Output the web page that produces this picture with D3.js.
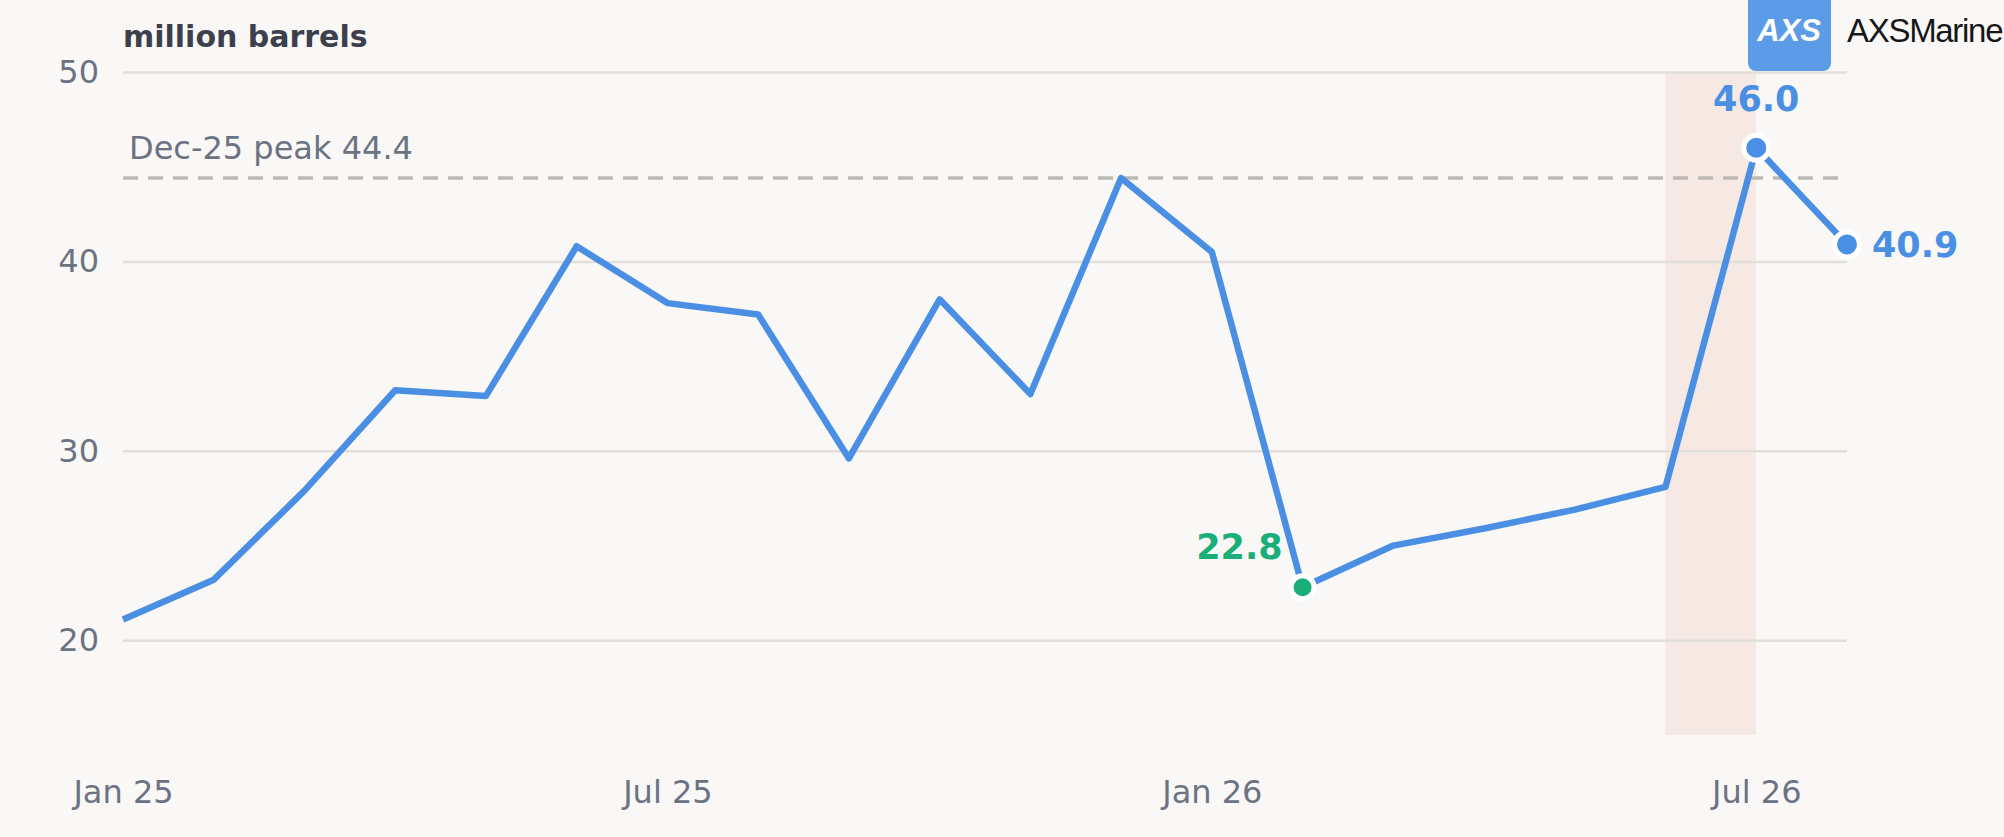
<!DOCTYPE html>
<html>
<head>
<meta charset="utf-8">
<script src="https://cdn.jsdelivr.net/npm/d3@7"></script>
<style>
  html, body { margin: 0; padding: 0; background: #f9f8f6; }
  svg { display: block; }
  .grid line { stroke: #e2dfdb; stroke-width: 2.5; }
  .grid text, .xaxis text { fill: #6b7383; font-family: "DejaVu Sans", sans-serif; font-size: 32px; }
</style>
</head>
<body>
<div id="chart"></div>
<script>
// monthly volumes, million barrels
const months = ['Jan 25','Feb 25','Mar 25','Apr 25','May 25','Jun 25','Jul 25','Aug 25','Sep 25','Oct 25','Nov 25','Dec 25',
                'Jan 26','Feb 26','Mar 26','Apr 26','May 26','Jun 26','Jul 26','Aug 26'];
const volumes = [21.1, 23.2, 27.9, 33.2, 32.9, 40.8, 37.8, 37.2, 29.6, 38.0, 33.0, 44.4,
                 40.5, 22.8, 25.0, 25.9, 26.9, 28.1, 46.0, 40.9];
const xTicks = ['Jan 25','Jul 25','Jan 26','Jul 26'];
const yTicks = [20, 30, 40, 50];
const peakValue = 44.4;
const peakLabel = 'Dec-25 peak 44.4';
const bandMonths = ['Jun 26','Jul 26'];
const lowMonth = 'Feb 26';
const highMonth = 'Jul 26';
const lastMonth = 'Aug 26';

const W = 2004, H = 837;
const margin = { left: 123, right: 157, top: 72, bottom: 102 };
const width = W - margin.left - margin.right;
const height = H - margin.top - margin.bottom;

const blue = '#4a8fe3';
const green = '#1aae78';

const data = months.map(function(m, i){ return { month: m, value: volumes[i] }; });

const x = d3.scalePoint()
    .domain(months)
    .range([0, width]);

const y = d3.scaleLinear()
    .domain([15, 50])
    .range([height, 0]);

const svg = d3.select('#chart').append('svg')
    .attr('width', W)
    .attr('height', H);

svg.append('rect').attr('width', W).attr('height', H).attr('fill', '#f9f8f6');

const g = svg.append('g')
    .attr('transform', 'translate(' + margin.left + ',' + margin.top + ')');

// shaded band
g.append('rect')
    .attr('x', x(bandMonths[0]))
    .attr('y', 0)
    .attr('width', x(bandMonths[1]) - x(bandMonths[0]))
    .attr('height', height)
    .attr('fill', '#f6e8e2');

// gridlines + y labels
const yAxis = d3.axisLeft(y)
    .tickValues(yTicks)
    .tickSize(-width)
    .tickPadding(24);

g.append('g')
    .attr('class', 'grid')
    .call(yAxis)
    .call(function(s){ s.select('.domain').remove(); });

// x labels
const xAxis = d3.axisBottom(x)
    .tickValues(xTicks)
    .tickSize(0)
    .tickPadding(45);

g.append('g')
    .attr('class', 'xaxis')
    .attr('transform', 'translate(0,' + height + ')')
    .call(xAxis)
    .call(function(s){ s.select('.domain').remove(); });

// previous peak reference
g.append('line')
    .attr('x1', 0)
    .attr('x2', width)
    .attr('y1', y(peakValue))
    .attr('y2', y(peakValue))
    .attr('stroke', '#bdbab5')
    .attr('stroke-width', 3.5)
    .attr('stroke-dasharray', '15,10');

g.append('text')
    .attr('x', 6)
    .attr('y', y(peakValue) - 19)
    .attr('fill', '#6b7383')
    .style('font-family', '"DejaVu Sans", sans-serif')
    .style('font-size', '32px')
    .text(peakLabel);

// main line
const line = d3.line()
    .x(function(d){ return x(d.month); })
    .y(function(d){ return y(d.value); });

g.append('path')
    .datum(data)
    .attr('fill', 'none')
    .attr('stroke', blue)
    .attr('stroke-width', 6.5)
    .attr('stroke-linejoin', 'round')
    .attr('d', line);

// highlighted points
const marks = [
    { month: lowMonth, color: green },
    { month: highMonth, color: blue },
    { month: lastMonth, color: blue }
].map(function(m){
    return { month: m.month, color: m.color, value: volumes[months.indexOf(m.month)] };
});

g.selectAll('.dot')
    .data(marks)
    .enter()
    .append('circle')
    .attr('class', 'dot')
    .attr('r', function(d){ return d.month === lowMonth ? 11.5 : 12.5; })
    .attr('cx', function(d){ return x(d.month); })
    .attr('cy', function(d){ return y(d.value); })
    .attr('fill', function(d){ return d.color; })
    .attr('stroke', '#fff')
    .attr('stroke-width', 5);

const labelStyle = function(s){
    s.style('font-family', '"DejaVu Sans", sans-serif')
     .style('font-size', '35px')
     .style('font-weight', 'bold');
};

g.append('text')
    .attr('x', x(lowMonth) - 20)
    .attr('y', y(marks[0].value) - 28)
    .attr('text-anchor', 'end')
    .attr('fill', green)
    .call(labelStyle)
    .text(marks[0].value.toFixed(1));

g.append('text')
    .attr('x', x(highMonth))
    .attr('y', y(marks[1].value) - 37)
    .attr('text-anchor', 'middle')
    .attr('fill', blue)
    .call(labelStyle)
    .text(marks[1].value.toFixed(1));

g.append('text')
    .attr('x', x(lastMonth) + 25)
    .attr('y', y(marks[2].value))
    .attr('dy', '0.35em')
    .attr('fill', blue)
    .call(labelStyle)
    .text(marks[2].value.toFixed(1));

// title
svg.append('text')
    .attr('x', 123)
    .attr('y', 47)
    .attr('fill', '#3b404c')
    .style('font-family', '"DejaVu Sans", sans-serif')
    .style('font-size', '30px')
    .style('font-weight', 'bold')
    .text('million barrels');

// logo
const logo = svg.append('g');
logo.append('rect')
    .attr('x', 1748)
    .attr('y', -12)
    .attr('width', 83)
    .attr('height', 83)
    .attr('rx', 8)
    .attr('fill', '#5b9be8');
logo.append('text')
    .attr('x', 1789)
    .attr('y', 41)
    .attr('text-anchor', 'middle')
    .attr('fill', '#fff')
    .style('font-family', '"Liberation Sans", Arial, sans-serif')
    .style('font-size', '31px')
    .style('font-weight', 'bold')
    .style('font-style', 'italic')
    .text('AXS');
logo.append('text')
    .attr('x', 1847)
    .attr('y', 42)
    .attr('fill', '#161616')
    .style('font-family', '"Liberation Sans", Arial, sans-serif')
    .style('font-size', '33px')
    .style('letter-spacing', '-1.3px')
    .text('AXSMarine');
</script>
</body>
</html>
